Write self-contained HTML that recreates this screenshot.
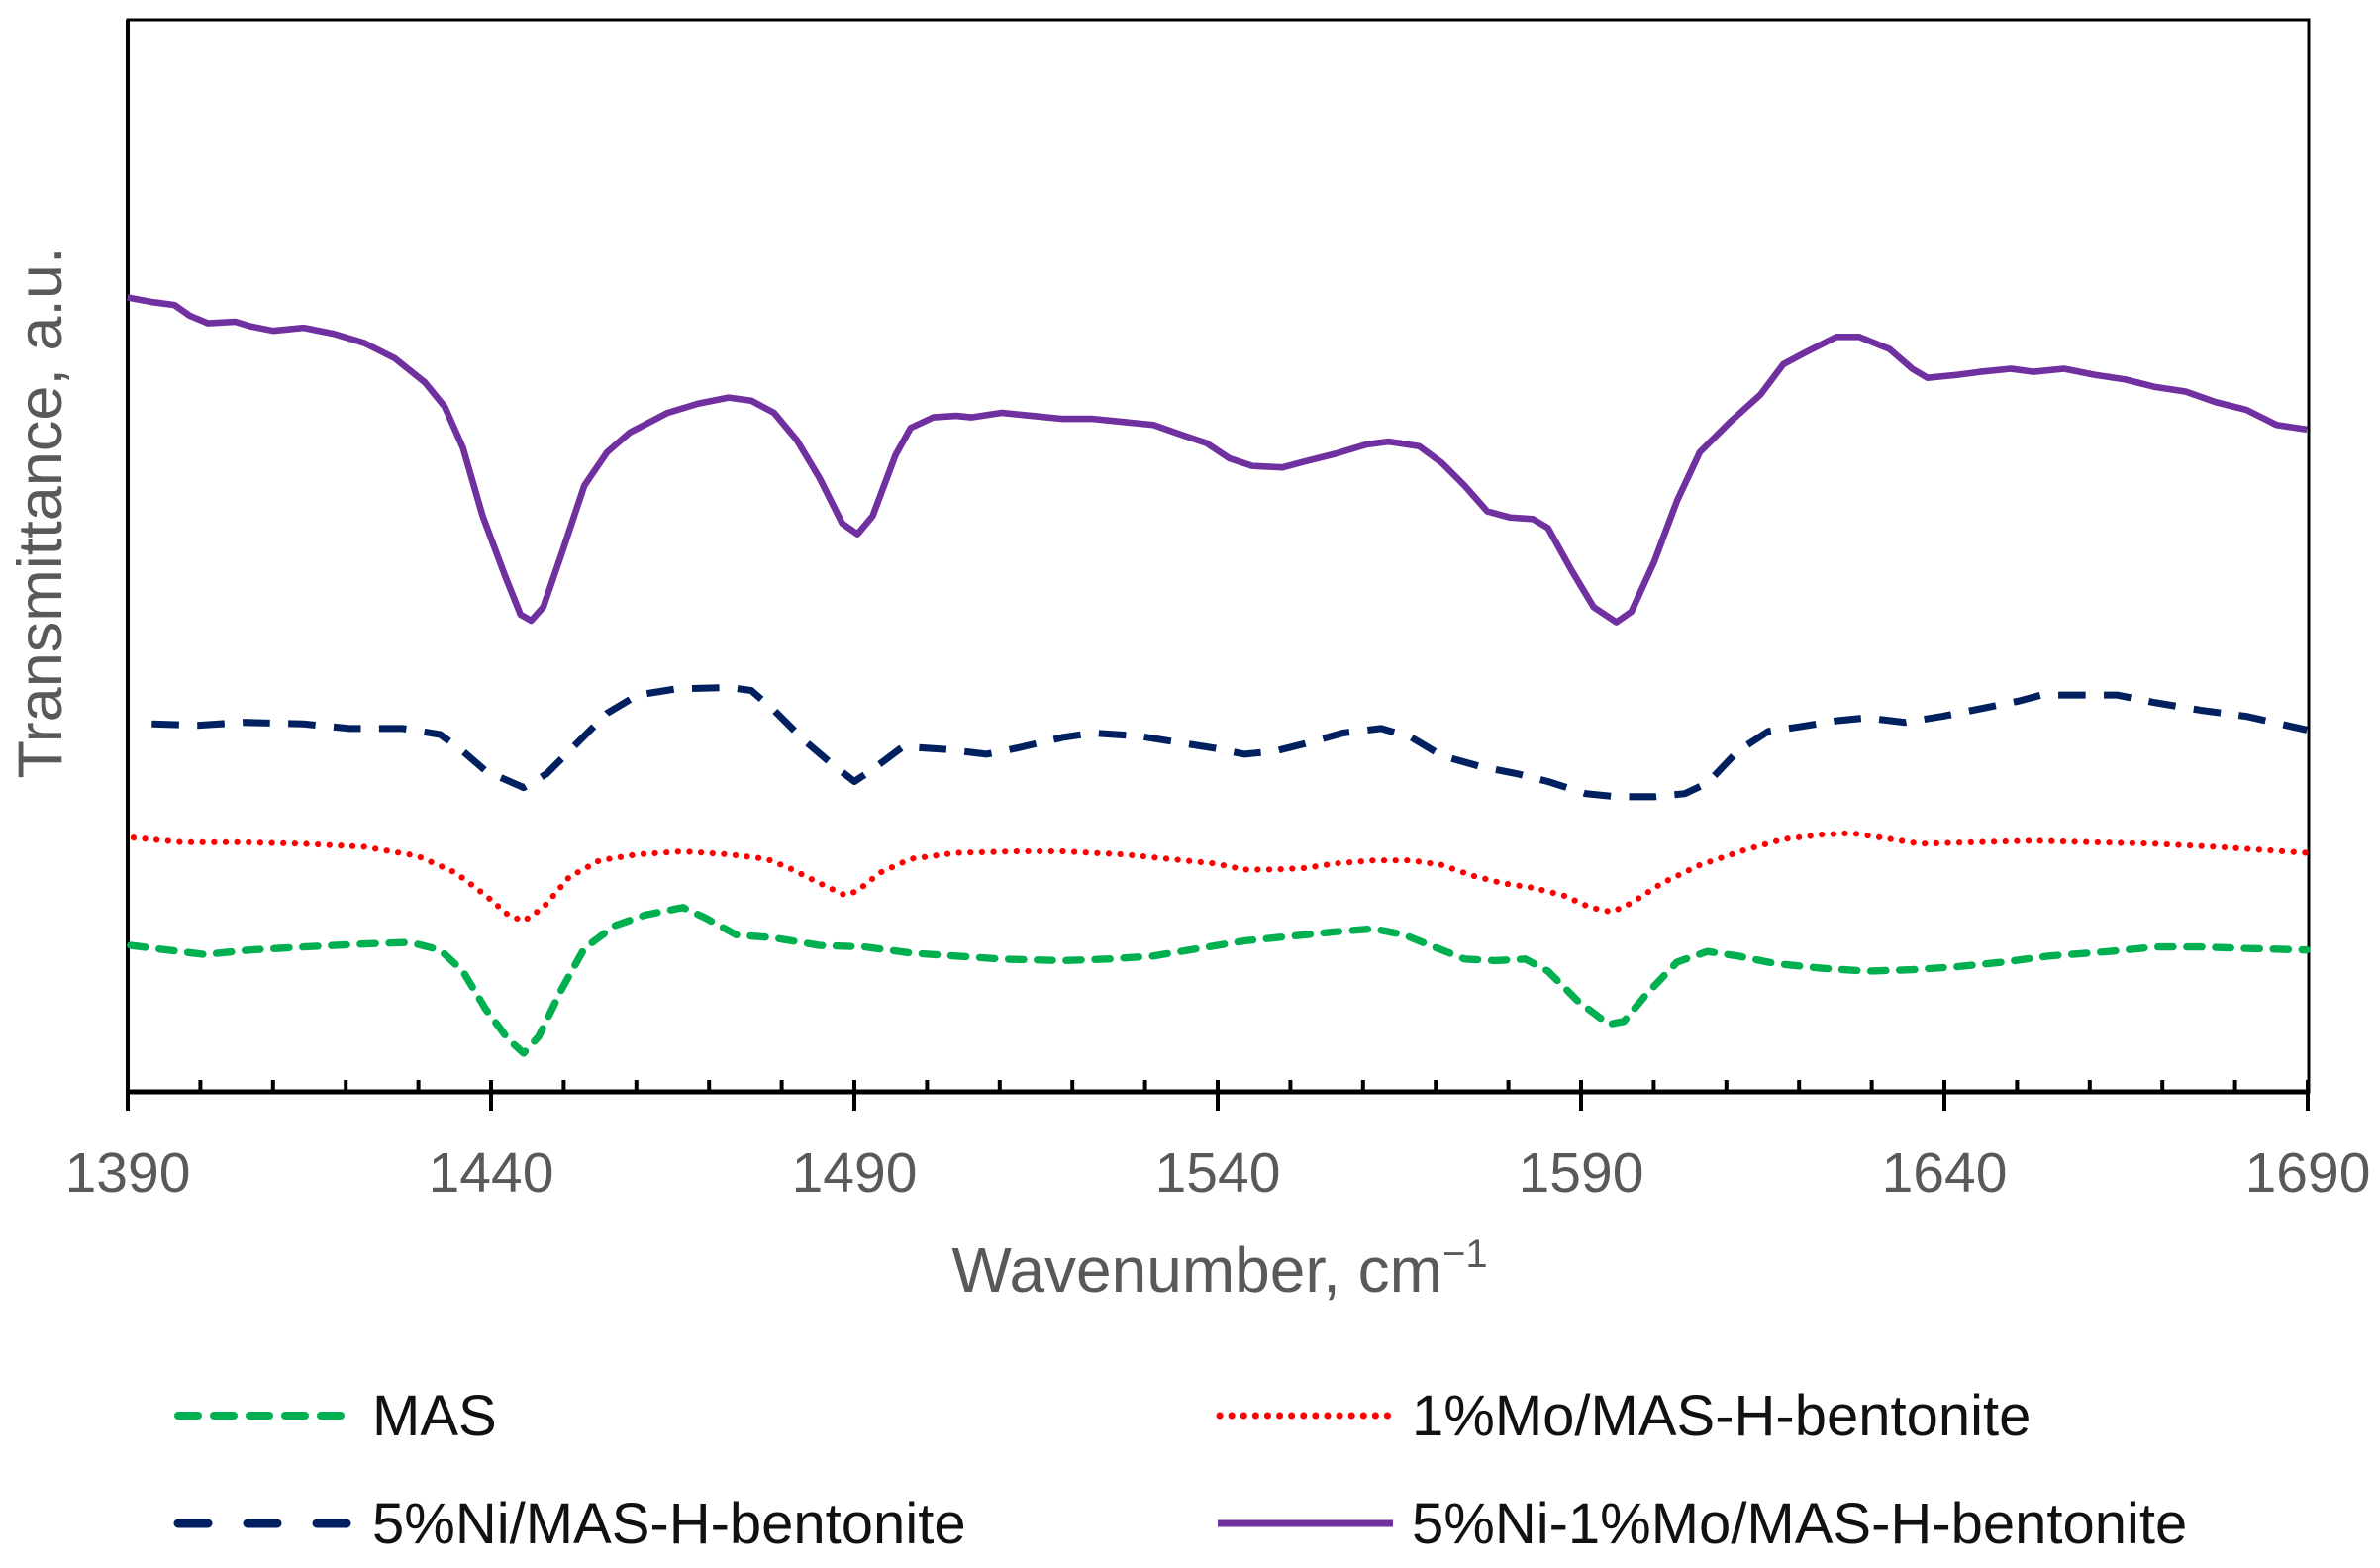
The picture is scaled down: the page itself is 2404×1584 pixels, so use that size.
<!DOCTYPE html>
<html><head><meta charset="utf-8"><style>
html,body{margin:0;padding:0;background:#fff;}
svg{display:block;}
text{font-family:"Liberation Sans",sans-serif;}
</style></head><body>
<svg width="2404" height="1584" viewBox="0 0 2404 1584" xmlns="http://www.w3.org/2000/svg">
<rect width="2404" height="1584" fill="#fff"/>
<rect x="129" y="20" width="2203" height="1083" fill="none" stroke="#000" stroke-width="3"/>
<line x1="129" y1="1103" x2="2332" y2="1103" stroke="#000" stroke-width="5"/>
<line x1="129" y1="20" x2="129" y2="1103" stroke="#000" stroke-width="4"/>
<g stroke="#000" stroke-width="4">
<line x1="129" y1="1091" x2="129" y2="1122"/><line x1="202.4" y1="1091" x2="202.4" y2="1103"/><line x1="275.8" y1="1091" x2="275.8" y2="1103"/><line x1="349.2" y1="1091" x2="349.2" y2="1103"/><line x1="422.6" y1="1091" x2="422.6" y2="1103"/>
<line x1="496" y1="1091" x2="496" y2="1122"/><line x1="569.4" y1="1091" x2="569.4" y2="1103"/><line x1="642.8" y1="1091" x2="642.8" y2="1103"/><line x1="716.2" y1="1091" x2="716.2" y2="1103"/><line x1="789.6" y1="1091" x2="789.6" y2="1103"/>
<line x1="863" y1="1091" x2="863" y2="1122"/><line x1="936.4" y1="1091" x2="936.4" y2="1103"/><line x1="1009.8" y1="1091" x2="1009.8" y2="1103"/><line x1="1083.2" y1="1091" x2="1083.2" y2="1103"/><line x1="1156.6" y1="1091" x2="1156.6" y2="1103"/>
<line x1="1230" y1="1091" x2="1230" y2="1122"/><line x1="1303.4" y1="1091" x2="1303.4" y2="1103"/><line x1="1376.8" y1="1091" x2="1376.8" y2="1103"/><line x1="1450.2" y1="1091" x2="1450.2" y2="1103"/><line x1="1523.6" y1="1091" x2="1523.6" y2="1103"/>
<line x1="1597" y1="1091" x2="1597" y2="1122"/><line x1="1670.4" y1="1091" x2="1670.4" y2="1103"/><line x1="1743.8" y1="1091" x2="1743.8" y2="1103"/><line x1="1817.2" y1="1091" x2="1817.2" y2="1103"/><line x1="1890.6" y1="1091" x2="1890.6" y2="1103"/>
<line x1="1964" y1="1091" x2="1964" y2="1122"/><line x1="2037.4" y1="1091" x2="2037.4" y2="1103"/><line x1="2110.8" y1="1091" x2="2110.8" y2="1103"/><line x1="2184.2" y1="1091" x2="2184.2" y2="1103"/><line x1="2257.6" y1="1091" x2="2257.6" y2="1103"/>
<line x1="2331" y1="1091" x2="2331" y2="1122"/>
</g>
<g fill="#595959" font-size="57" text-anchor="middle">
<text x="129" y="1204">1390</text><text x="496" y="1204">1440</text><text x="863" y="1204">1490</text><text x="1230" y="1204">1540</text><text x="1597" y="1204">1590</text><text x="1964" y="1204">1640</text><text x="2331" y="1204">1690</text>
</g>
<text x="1232" y="1305" fill="#595959" font-size="64" text-anchor="middle">Wavenumber, cm<tspan dy="-25" font-size="40">−1</tspan></text>
<text transform="translate(62,518) rotate(-90)" fill="#595959" font-size="63" text-anchor="middle">Transmittance, a.u.</text>
<g transform="scale(1.533)" fill="none" stroke-linejoin="round">
<polyline stroke="#7030a0" stroke-width="4.3" points="84,196 100,199 115,201 125,208 137,213 155,212 165,215 180,218 200,216 220,220 240,226 260,236 280,252 293,268 305,295 318,340 333,380 343,405 350,409 358,400 370,365 385,320 400,298 415,285 440,272 460,266 480,262 495,264 510,272 525,290 540,315 555,345 565,352 575,340 590,300 600,282 615,275 630,274 640,275 660,272 680,274 700,276 720,276 740,278 760,280 780,287 795,292 810,302 825,307 845,308 860,304 880,299 900,293 915,291 935,294 950,305 965,320 980,337 995,341 1010,342 1020,348 1035,375 1050,400 1065,410 1075,403 1090,370 1105,330 1120,298 1140,278 1160,260 1175,240 1190,232 1210,222 1225,222 1245,230 1260,243 1270,249 1290,247 1305,245 1325,243 1340,245 1360,243 1380,247 1400,250 1420,255 1440,258 1460,265 1480,270 1500,280 1520,283"/>
<polyline stroke="#002060" stroke-width="4.6" stroke-dasharray="18,12" points="100,477 130,478 160,476 200,477 230,480 265,480 290,484 305,495 320,508 345,519 360,510 380,490 400,470 420,458 445,454 480,453 495,455 510,468 530,488 550,505 563,515 575,507 595,492 625,494 650,497 670,493 700,486 720,483 750,485 775,489 800,493 820,497 840,495 860,490 885,483 910,480 930,486 950,498 975,505 1000,510 1020,515 1045,523 1065,525 1090,525 1110,523 1125,516 1145,495 1165,482 1185,479 1210,475 1230,473 1255,476 1280,472 1310,466 1330,462 1345,458 1370,458 1395,458 1420,463 1450,468 1480,472 1520,481"/>
<polyline stroke="#ff0000" stroke-width="4" stroke-dasharray="0.1,7.5" stroke-linecap="round" points="88,552 120,555 160,555 200,556 240,558 275,564 300,575 320,590 335,603 345,607 358,598 375,578 395,567 420,563 450,561 480,563 505,566 520,572 540,582 557,590 565,587 580,575 600,566 630,562 670,561 700,561 740,563 780,567 800,569 820,573 840,573 860,572 880,569 905,567 930,567 950,570 970,577 990,582 1010,585 1030,590 1048,598 1062,601 1075,595 1095,582 1120,570 1150,560 1175,553 1200,550 1220,549 1240,552 1265,556 1300,555 1340,554 1380,555 1420,556 1460,558 1520,562"/>
<polyline stroke="#00b050" stroke-width="4.8" stroke-dasharray="10,9" stroke-linecap="round" points="86,623 110,626 135,629 165,626 200,624 240,622 270,621 290,626 305,640 320,665 335,685 345,694 355,683 370,652 385,625 405,610 425,603 450,598 465,605 485,616 510,618 540,623 570,624 600,628 630,630 660,632 700,633 730,632 760,630 790,625 820,620 850,617 880,614 905,612 925,616 945,624 965,632 985,633 1005,632 1020,640 1040,660 1060,675 1070,673 1085,655 1105,634 1125,627 1145,630 1170,635 1200,638 1230,640 1260,639 1290,637 1320,634 1350,630 1390,627 1420,624 1450,624 1480,625 1520,626"/>
</g>
<line x1="180" y1="1430" x2="358" y2="1430" stroke="#00b050" stroke-width="8" stroke-dasharray="20,16" stroke-linecap="round"/>
<text x="376" y="1450" font-size="58" fill="#111">MAS</text>
<line x1="1232" y1="1430" x2="1405" y2="1430" stroke="#ff0000" stroke-width="7" stroke-dasharray="0.1,12" stroke-linecap="round"/>
<text x="1426" y="1450" font-size="58" fill="#111">1%Mo/MAS-H-bentonite</text>
<line x1="180" y1="1539" x2="358" y2="1539" stroke="#002060" stroke-width="9" stroke-dasharray="30,40" stroke-linecap="round"/>
<text x="376" y="1559" font-size="58" fill="#111">5%Ni/MAS-H-bentonite</text>
<line x1="1230" y1="1539" x2="1407" y2="1539" stroke="#7030a0" stroke-width="7"/>
<text x="1426" y="1559" font-size="58" fill="#111">5%Ni-1%Mo/MAS-H-bentonite</text>
</svg>
</body></html>
